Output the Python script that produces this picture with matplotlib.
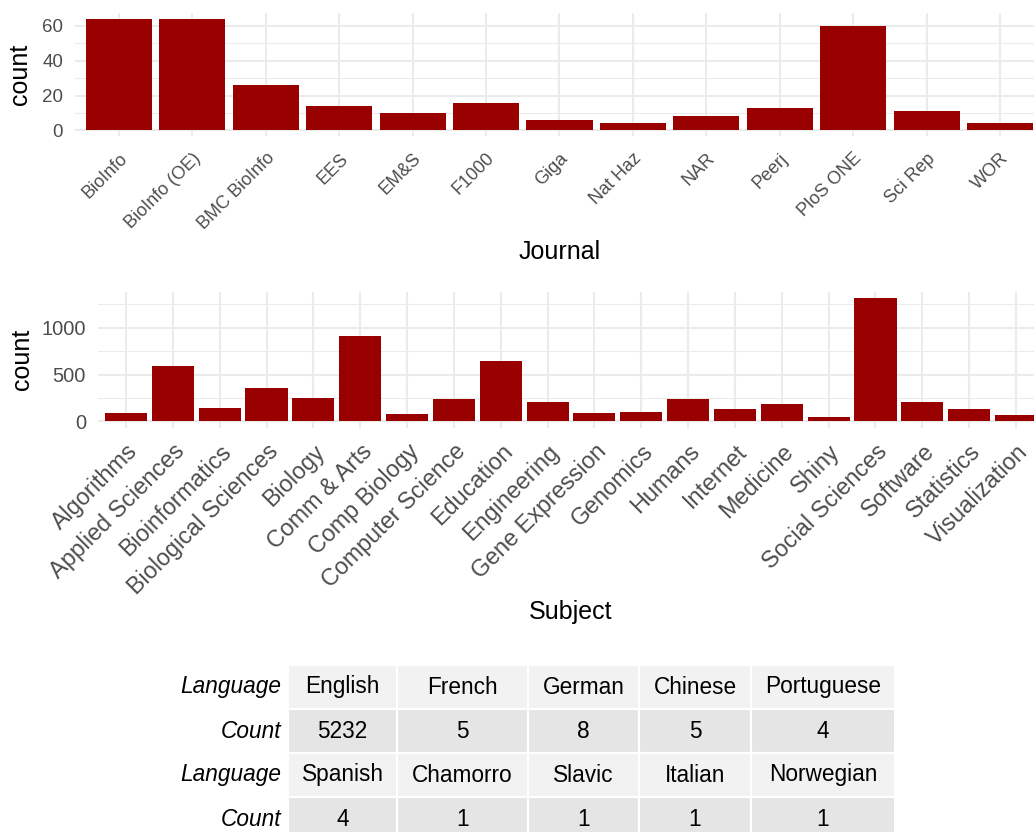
import matplotlib
matplotlib.use("Agg")
import matplotlib.pyplot as plt
from matplotlib.patches import Rectangle
import numpy as np

plt.rcParams['font.family'] = ['Liberation Sans', 'DejaVu Sans']

# ---------------- data ----------------
journals = ["BioInfo", "BioInfo (OE)", "BMC BioInfo", "EES", "EM&S", "F1000", "Giga",
            "Nat Haz", "NAR", "Peerj", "PloS ONE", "Sci Rep", "WOR"]
journal_counts = [64, 64, 26, 14, 10, 16, 6, 4, 8, 13, 60, 11, 4]

subjects = ["Algorithms", "Applied Sciences", "Bioinformatics", "Biological Sciences",
            "Biology", "Comm & Arts", "Comp Biology", "Computer Science", "Education",
            "Engineering", "Gene Expression", "Genomics", "Humans", "Internet",
            "Medicine", "Shiny", "Social Sciences", "Software", "Statistics",
            "Visualization"]
subject_counts = [92, 592, 142, 355, 252, 908, 78, 241, 649, 206, 85, 103, 241, 131,
                  181, 43, 1319, 206, 128, 67]

languages_1 = ["English", "French", "German", "Chinese", "Portuguese"]
counts_1 = [5232, 5, 8, 5, 4]
languages_2 = ["Spanish", "Chamorro", "Slavic", "Italian", "Norwegian"]
counts_2 = [4, 1, 1, 1, 1]

# ---------------- styles ----------------
W, H = 1034, 832
BAR = "#990000"
GRID = "#ebebeb"
TICK = "#4d4d4d"

fig = plt.figure(figsize=(W / 100, H / 100), dpi=100)


def px_axes(l, t, r, b):
    return fig.add_axes([l / W, 1 - b / H, (r - l) / W, (b - t) / H])


def style_bar_axes(ax, cats, vals, major, minor, xfs, yfs, xpad):
    x = np.arange(1, len(cats) + 1)
    ax.bar(x, vals, width=0.9, color=BAR, zorder=3, linewidth=0)
    vmax = max(vals)
    ax.set_xlim(0.4, len(cats) + 0.6)
    ax.set_ylim(-0.05 * vmax, 1.05 * vmax)
    ax.set_xticks(x)
    ax.set_xticklabels(cats, rotation=45, ha='right', va='top',
                       rotation_mode='anchor', fontsize=xfs, color=TICK)
    ax.set_yticks(major)
    ax.set_yticks(minor, minor=True)
    ax.tick_params(axis='y', which='both', length=0, labelsize=yfs,
                   labelcolor=TICK, pad=8.5)
    ax.tick_params(axis='x', which='both', length=0, pad=xpad)
    ax.grid(True, which='major', color=GRID, linewidth=1.45, zorder=0)
    ax.grid(True, which='minor', axis='y', color=GRID, linewidth=0.75, zorder=0)
    ax.set_axisbelow(True)
    for s in ax.spines.values():
        s.set_visible(False)
    ax.set_ylabel("count", fontsize=18, color='black', va='center')


# top panel (extends slightly past the right edge, as in the reference crop)
L1, T1, R1, B1 = 75.0, 13.4, 1044.0, 136.0
ax1 = px_axes(L1, T1, R1, B1)
style_bar_axes(ax1, journals, journal_counts, [0, 20, 40, 60], [10, 30, 50], 13, 13.5, 10)
ax1.yaxis.set_label_coords((20 - L1) / (R1 - L1), 0.5)
ax1.set_xlabel("Journal", fontsize=18, color='black')
ax1.xaxis.label.set_va('center')
ax1.xaxis.set_label_coords(0.5, (B1 - 252) / (B1 - T1))

# second panel
L2, T2, R2, B2 = 97.9, 291.7, 1044.1, 427.5
ax2 = px_axes(L2, T2, R2, B2)
style_bar_axes(ax2, subjects, subject_counts, [0, 500, 1000], [250, 750, 1250], 16.8, 14.5, 9)
ax2.yaxis.set_label_coords((22.5 - L2) / (R2 - L2), 0.5)
ax2.set_xlabel("Subject", fontsize=18, color='black')
ax2.xaxis.label.set_va('center')
ax2.xaxis.set_label_coords(0.5, (B2 - 612) / (B2 - T2))

# ---------------- table ----------------
col_w = [109, 131, 111, 112, 144]
row_h = 44
t_left, t_top = 288, 665
n_rows = 4
t_w = sum(col_w)
t_h = row_h * n_rows
axt = px_axes(t_left, t_top, t_left + t_w, t_top + t_h)
axt.set_xlim(0, t_w)
axt.set_ylim(t_h, 0)
axt.axis('off')

rows = [("Language", languages_1), ("Count", [str(c) for c in counts_1]),
        ("Language", languages_2), ("Count", [str(c) for c in counts_2])]
fills = ["#f2f2f2", "#e5e5e5", "#f2f2f2", "#e5e5e5"]
edges = np.concatenate([[0], np.cumsum(col_w)])
for r, (label, cells) in enumerate(rows):
    y0 = r * row_h
    axt.text(-7, y0 + row_h / 2, label, ha='right', va='center', fontsize=16.3,
             style='italic', color='black', clip_on=False)
    for c, txt in enumerate(cells):
        axt.add_patch(Rectangle((edges[c], y0), col_w[c], row_h, facecolor=fills[r],
                                edgecolor='white', linewidth=1.5, clip_on=False))
        axt.text(edges[c] + col_w[c] / 2, y0 + row_h / 2, txt, ha='center',
                 va='center', fontsize=16.3, color='black', clip_on=False)

fig.savefig("out.png", dpi=100)
